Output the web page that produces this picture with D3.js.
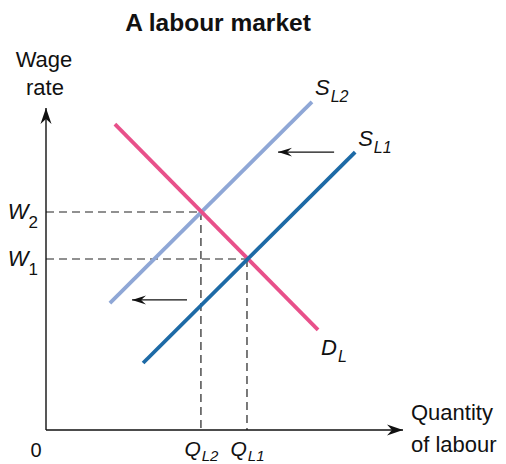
<!DOCTYPE html>
<html>
<head>
<meta charset="utf-8">
<script src="https://cdn.jsdelivr.net/npm/d3@7"></script>
<style>
  body { margin: 0; background: #fff; }
  text { font-family: "Liberation Sans", Arial, sans-serif; fill: #111; }
</style>
</head>
<body>
<div id="chart"></div>
<script>
// chart size
const width = 506;
const height = 464;

// curves, in chart units (quantity, wage)
const demandL = [[19.3, 95.0], [76.2, 31.1]];
const supplyL1 = [[27.2, 20.8], [86.6, 86.3]];
const supplyL2 = [[17.9, 39.4], [74.5, 101.9]];

// equilibria: new (2) and old (1)
const eqQuantity = [43.4, 56.3];
const eqWage = [67.7, 53.1];
const qLabels = ["L2", "L1"];
const wLabels = ["2", "1"];

// leftward shift arrows [from, to, wage level]
const shiftArrows = [[80.7, 65.0, 86.3], [39.5, 24.1, 40.4]];

const colors = {
  demand: "#e8508a",
  supply1: "#1d6aa6",
  supply2: "#8fa7d6",
  ink: "#111"
};

const x = d3.scaleLinear().domain([0, 100]).range([46, 403]);
const y = d3.scaleLinear().domain([0, 100]).range([430, 108]);

const svg = d3.select("#chart").append("svg")
  .attr("width", width)
  .attr("height", height);

// arrowheads
const defs = svg.append("defs");
defs.append("marker")
  .attr("id", "axisHead")
  .attr("markerUnits", "userSpaceOnUse")
  .attr("viewBox", "-16 -7 18 14")
  .attr("markerWidth", 18).attr("markerHeight", 14)
  .attr("refX", 0).attr("refY", 0)
  .attr("orient", "auto")
  .append("path")
  .attr("d", "M0,0 L-16,-5.5 L-11,0 L-16,5.5 Z")
  .attr("fill", colors.ink);
defs.append("marker")
  .attr("id", "shiftHead")
  .attr("markerUnits", "userSpaceOnUse")
  .attr("viewBox", "-14 -6 16 12")
  .attr("markerWidth", 16).attr("markerHeight", 12)
  .attr("refX", 0).attr("refY", 0)
  .attr("orient", "auto")
  .append("path")
  .attr("d", "M0,0 L-14,-4.5 L-9,0 L-14,4.5 Z")
  .attr("fill", colors.ink);

// title
svg.append("text")
  .attr("x", 218)
  .attr("y", 31)
  .attr("text-anchor", "middle")
  .attr("font-size", 24.5)
  .attr("font-weight", "bold")
  .text("A labour market");

// dashed guides from each equilibrium to the axes
const guides = svg.append("g")
  .attr("stroke", "#222")
  .attr("stroke-width", 1.2)
  .attr("stroke-dasharray", "8,5");
eqQuantity.forEach((q, i) => {
  guides.append("line")
    .attr("x1", x(0)).attr("y1", y(eqWage[i]))
    .attr("x2", x(q)).attr("y2", y(eqWage[i]));
  guides.append("line")
    .attr("x1", x(q)).attr("y1", y(eqWage[i]))
    .attr("x2", x(q)).attr("y2", y(0));
});

// axes (no ticks, labels only)
const xAxis = svg.append("g")
  .attr("transform", `translate(0,${y(0)})`)
  .call(d3.axisBottom(x).tickValues(eqQuantity).tickSize(0).tickPadding(9));
xAxis.select(".domain").remove();
xAxis.selectAll(".tick text")
  .attr("font-size", 21)
  .attr("font-style", "italic")
  .attr("fill", colors.ink)
  .attr("dy", "0.8em")
  .text(null)
  .each(function(d, i) {
    const t = d3.select(this);
    t.append("tspan").text("Q");
    t.append("tspan").attr("font-size", 15).attr("dy", 5).attr("dx", 1).text(qLabels[i]);
  });

const yAxis = svg.append("g")
  .attr("transform", `translate(${x(0)},0)`)
  .call(d3.axisLeft(y).tickValues(eqWage).tickSize(0).tickPadding(8));
yAxis.select(".domain").remove();
yAxis.selectAll(".tick text")
  .attr("font-size", 22)
  .attr("fill", colors.ink)
  .attr("dy", "0.3em")
  .text(null)
  .each(function(d, i) {
    const t = d3.select(this);
    t.append("tspan").attr("font-style", "italic").text("W");
    t.append("tspan").attr("font-size", 17).attr("dy", 9).text(wLabels[i]);
  });

svg.append("line")
  .attr("x1", x(0)).attr("y1", y(0))
  .attr("x2", x(100)).attr("y2", y(0))
  .attr("stroke", colors.ink).attr("stroke-width", 1.4)
  .attr("marker-end", "url(#axisHead)");
svg.append("line")
  .attr("x1", x(0)).attr("y1", y(0))
  .attr("x2", x(0)).attr("y2", y(100))
  .attr("stroke", colors.ink).attr("stroke-width", 1.4)
  .attr("marker-end", "url(#axisHead)");

// axis titles
svg.append("text").attr("x", 36).attr("y", 457)
  .attr("text-anchor", "middle").attr("font-size", 20).text("0");
const wageTitle = svg.append("text").attr("text-anchor", "middle").attr("font-size", 22);
wageTitle.append("tspan").attr("x", 44).attr("y", 67).text("Wage");
wageTitle.append("tspan").attr("x", 45).attr("y", 95).text("rate");
const qtyTitle = svg.append("text").attr("font-size", 22);
qtyTitle.append("tspan").attr("x", 411).attr("y", 420).text("Quantity");
qtyTitle.append("tspan").attr("x", 411).attr("y", 452).text("of labour");

// curves
const line = d3.line().x(d => x(d[0])).y(d => y(d[1]));
[[supplyL2, colors.supply2], [demandL, colors.demand], [supplyL1, colors.supply1]]
  .forEach(([pts, c]) => {
    svg.append("path")
      .attr("d", line(pts))
      .attr("fill", "none")
      .attr("stroke", c)
      .attr("stroke-width", 3.8);
  });

// shift arrows
shiftArrows.forEach(a => {
  svg.append("line")
    .attr("x1", x(a[0])).attr("y1", y(a[2]))
    .attr("x2", x(a[1])).attr("y2", y(a[2]))
    .attr("stroke", colors.ink).attr("stroke-width", 1.2)
    .attr("marker-end", "url(#shiftHead)");
});

// curve labels
function curveLabel(px, py, main, sub) {
  const t = svg.append("text").attr("x", px).attr("y", py)
    .attr("font-size", 22).attr("font-style", "italic");
  t.append("tspan").text(main);
  t.append("tspan").attr("font-size", 16).attr("dy", 7).attr("dx", 1).text(sub);
}
curveLabel(x(supplyL2[1][0]) + 3, y(supplyL2[1][1]) - 7, "S", "L2");
curveLabel(x(supplyL1[1][0]) + 3, y(supplyL1[1][1]) - 6, "S", "L1");
curveLabel(x(demandL[1][0]) + 3, y(demandL[1][1]) + 25, "D", "L");
</script>
</body>
</html>
